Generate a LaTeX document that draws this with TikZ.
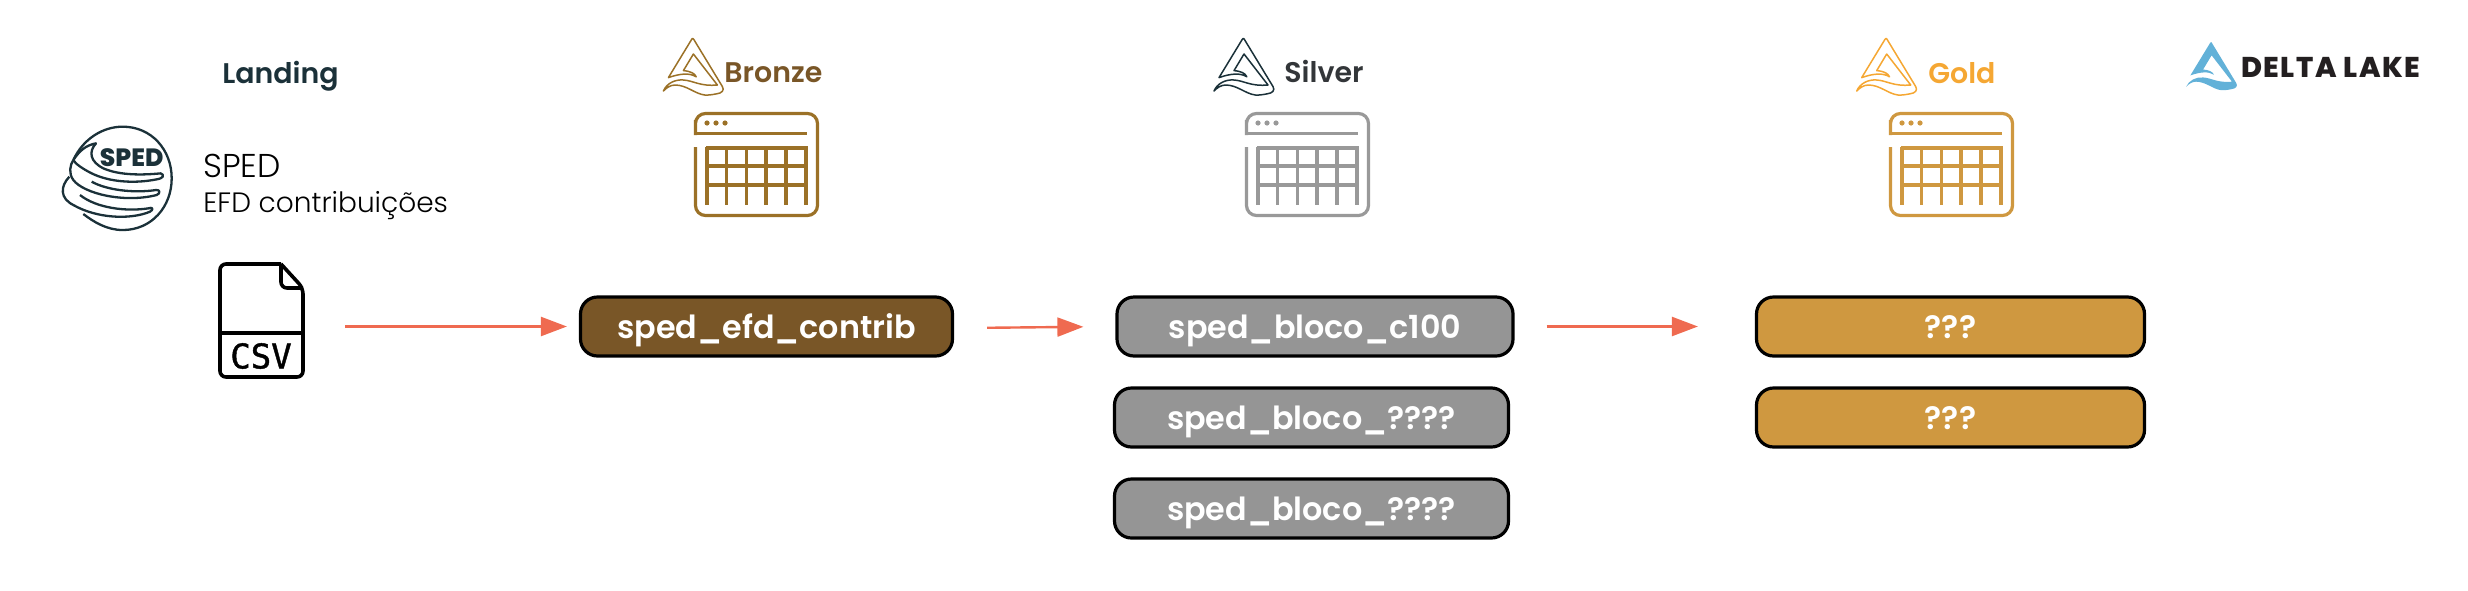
\documentclass[tikz,border=0pt]{standalone}
\usepackage{fontspec}
\setmainfont{Poppins}[BoldFont={Poppins SemiBold}]
\newfontfamily\lightfont{Poppins Light}
\newfontfamily\heavyfont{Poppins ExtraBold}[LetterSpace=5]
\newfontfamily\spedfont{Poppins ExtraBold}
\newfontfamily\csvfont{DejaVu Sans Mono}[FakeBold=1.2]
\usetikzlibrary{arrows.meta}
\definecolor{flowRed}{HTML}{EF6A50}
\definecolor{spedInk}{HTML}{1B3139}
\definecolor{brzBox}{HTML}{795627}
\definecolor{brzLine}{HTML}{9B7127}
\definecolor{slvBox}{HTML}{959595}
\definecolor{slvLine}{HTML}{999999}
\definecolor{slvText}{HTML}{333639}
\definecolor{gldBox}{HTML}{CF9840}
\definecolor{gldLogo}{HTML}{F5A733}
\definecolor{deltaBlue}{HTML}{62B1D8}
\definecolor{deltaInk}{HTML}{231F20}
\tikzstyle{tbl} = [draw=black, line width=1.6pt, rounded corners=8.5pt, minimum height=29.5pt,
        inner sep=0pt, text=white, text height=11.5pt, text depth=0pt, font={\fontsize{15.9}{17}\bfseries}]
\tikzstyle{layer} = [anchor=base west, inner sep=0pt, font={\fontsize{14.2}{16}\bfseries}]
\tikzstyle{flow} = [-{Triangle[length=13pt,width=9.5pt]}, flowRed, line width=1.2pt]
\tikzstyle{logoline} = [line width=.75pt, line join=round]
\tikzset{
    lakelogo/.pic={
        \path [pic actions] (-24.3,39.3) -- (-1,1) .. controls (-.5,-.3) and (.5,-.3) .. (1,1)
            -- (29.7,48.3) .. controls (32,52) and (29,55) .. (24,55.5)
            .. controls (19,56.5) and (15,57) .. (12,56.7)
            .. controls (2,55.5) and (-6,46.7) .. (-17.7,46.7)
            .. controls (-22.7,46.7) and (-26.7,50) .. (-29.3,52.7)
            .. controls (-26,45) and (-17.7,41) .. (-9.3,41.7)
            .. controls (.7,42.3) and (7.3,48.3) .. (24.7,46.7)
            -- (.7,15.7) -- (-9.3,32.3) .. controls (-2,33) and (2,35) .. (3.5,38.5)
            .. controls (-3,34.5) and (-12,35) .. cycle;
    },
    tableicon/.pic={
        \draw [#1, line width=1.6pt, line cap=butt] (1.5,23) -- (1.5,8) [rounded corners=5pt] -- (1.5,1.5) -- (123.5,1.5)
            -- (123.5,103.5) -- (1.5,103.5) -- (1.5,35);
        \draw [#1, line width=1.6pt] (0,21.5) -- (113,21.5);
        \foreach \colx in {13,32.5,52.5,72,92,112}
            \draw [#1, line width=1.6pt] (\colx,35) -- (\colx,93);
        \foreach \rowy in {36,54,73}
            \draw [#1, line width=1.6pt] (12,\rowy) -- (114,\rowy);
        \foreach \dotx in {13,22,31}
            \fill [#1] (\dotx,11) circle (1.3pt);
    }
}
\begin{document}
\begin{tikzpicture}[x=.5pt, y=-.5pt]
    \useasboundingbox (0,0) rectangle (2468,590);

    \node [layer, text=spedInk] (landing) at (222,83) {Landing};
    \node [layer, text=brzBox] (bronzetitle) at (724,82) {Bronze};
    \node [layer, text=slvText] (silvertitle) at (1284,82) {Silver};
    \node [layer, text=gldLogo] (goldtitle) at (1928,83) {Gold};

    \pic [draw=brzLine, logoline] at (692.7,38.3) {lakelogo};
    \pic [draw=spedInk, logoline] at (1243.3,38.3) {lakelogo};
    \pic [draw=gldLogo, logoline] at (1886,38.3) {lakelogo};
    \pic [fill=deltaBlue, scale=.85] at (2211,42) {lakelogo};
    \node [anchor=base west, inner sep=0pt, text=deltaInk, font={\heavyfont\fontsize{14.3}{16}\selectfont}] (deltalake)
        at (2241,77) {DELTA LAKE};

    \pic at (694,112) {tableicon=brzLine};
    \pic at (1245,112) {tableicon=slvLine};
    \pic at (1889,112) {tableicon=gldBox};

    % sped logo
    \begin{scope}[shift={(40,110)}, x=.1667pt, y=-.1667pt, spedInk, line width=1.15pt, line join=round]
        \draw (100,150) .. controls (130,85) and (190,50) .. (248,50)
            .. controls (335,50) and (395,120) .. (395,205)
            .. controls (395,290) and (335,360) .. (248,360)
            .. controls (200,360) and (160,335) .. (130,312);
        \draw (100,150) .. controls (120,120) and (140,105) .. (168,100)
            .. controls (145,125) and (150,155) .. (190,175)
            .. controls (240,197) and (310,195) .. (362,190)
            .. controls (375,195) and (370,205) .. (350,208)
            .. controls (280,222) and (205,215) .. (155,190)
            .. controls (125,175) and (105,160) .. (100,150);
        \draw (100,150) .. controls (90,165) and (85,190) .. (100,210)
            .. controls (130,250) and (250,280) .. (350,255)
            .. controls (362,250) and (360,238) .. (348,240)
            .. controls (280,250) and (200,240) .. (155,215);
        \draw (88,200) .. controls (60,230) and (60,265) .. (100,285)
            .. controls (170,325) and (270,330) .. (330,305)
            .. controls (342,298) and (338,290) .. (325,295)
            .. controls (260,305) and (170,295) .. (120,255);
    \end{scope}
    \node [inner sep=0pt, text=spedInk, font={\spedfont\fontsize{12.5}{14}\selectfont}] (spedmark) at (131.7,158) {SPED};
    \node [anchor=base west, inner sep=0pt, font={\lightfont\fontsize{16.5}{18}\selectfont}] (spedname) at (203,177) {SPED};
    \node [anchor=base west, inner sep=0pt, font={\lightfont\fontsize{14}{16}\selectfont}] (spedefd) at (203,212) {EFD contribuições};

    \node [minimum width=42.5pt, minimum height=57.5pt, inner sep=0pt] (csvfile) at (261.5,320) {};
    \draw [line width=1.8pt, rounded corners=3pt] (281,264) -- (220,264) -- (220,377) -- (303,377) -- (303,288) [sharp corners] -- (281,264);
    \draw [line width=1.8pt, rounded corners=3pt] (281,264) -- (281,288) -- (303,288);
    \draw [line width=1.8pt] (220,333) -- (303,333);
    \node [inner sep=0pt, font={\csvfont\fontsize{17}{19}\selectfont}] (csvtext) at (261,356) {CSV};

    \node [tbl, fill=brzBox, minimum width=186pt] (bronze) at (766.5,326.5) {sped\_efd\_contrib};
    \node [tbl, fill=slvBox, minimum width=198pt] (blococ) at (1315,326.5) {sped\_bloco\_c100};
    \node [tbl, fill=slvBox, minimum width=197pt] (blocoa) at (1311.5,417.5) {sped\_bloco\_????};
    \node [tbl, fill=slvBox, minimum width=197pt] (blocob) at (1311.5,508.5) {sped\_bloco\_????};
    \node [tbl, fill=gldBox, minimum width=194pt] (golda) at (1950.5,326.5) {???};
    \node [tbl, fill=gldBox, minimum width=194pt] (goldb) at (1950.5,417.5) {???};

    \draw [flow, shorten <=20.5pt, shorten >=6pt] (csvfile.east |- bronze.west) -- (bronze.west);
    \draw [flow, shorten <=16.5pt, shorten >=16pt] ([yshift=-.8pt]bronze.east) -- (blococ.west);
    \draw [flow, shorten <=16pt, shorten >=28.5pt] (blococ.east) -- (golda.west);
\end{tikzpicture}
\end{document}
